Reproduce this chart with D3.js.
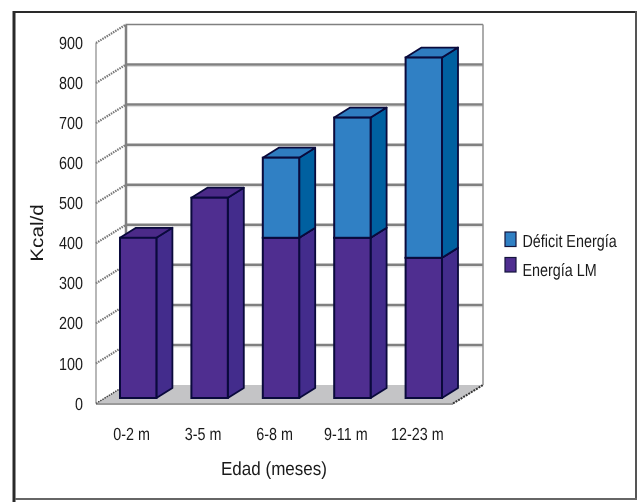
<!DOCTYPE html>
<html>
  <meta charset="utf-8" />
  <head>
    <script src="https://d3js.org/d3.v7.min.js"></script>
    <style>
      body {
        margin: 0;
        background: #fff;
      }
      /* the original is a soft, scanned-looking image */
      svg {
        filter: blur(0.35px);
      }
      text {
        font-family: "Liberation Sans", Arial, sans-serif;
        fill: #1a1a1a;
        text-rendering: geometricPrecision;
      }
    </style>
  </head>
  <body>
    <svg id="chart" width="639" height="502"></svg>

    <script>
      const categories = ["0-2 m", "3-5 m", "6-8 m", "9-11 m", "12-23 m"];
      const energiaLM = [400, 500, 400, 400, 350];
      const deficitEnergia = [0, 0, 200, 300, 500];
      const yTicks = [0, 100, 200, 300, 400, 500, 600, 700, 800, 900];

      const svg = d3.select("#chart");

      // 3d offsets: wall depth and bar depth
      const wallDx = 30;
      const wallDy = -18.5;
      const barShiftX = 6.5;
      const barShiftY = -5.5;
      const barDx = 16;
      const barDy = -10;

      const xScale = d3
        .scaleBand()
        .domain(categories)
        .range([96, 453])
        .paddingInner(0.49)
        .paddingOuter(0.245);
      const yScale = d3.scaleLinear().domain([0, 900]).range([403.5, 43]);

      // outer frame
      const frame = svg.append("g");
      frame.append("line").attr("x1", 14).attr("x2", 14).attr("y1", 11).attr("y2", 502)
        .attr("stroke", "#2a2a2a").attr("stroke-width", 3);
      frame.append("line").attr("x1", 13).attr("x2", 637).attr("y1", 12).attr("y2", 12)
        .attr("stroke", "#2a2a2a").attr("stroke-width", 2);
      frame.append("line").attr("x1", 636).attr("x2", 636).attr("y1", 11).attr("y2", 499)
        .attr("stroke", "#555").attr("stroke-width", 2);
      frame.append("line").attr("x1", 15).attr("x2", 637).attr("y1", 499).attr("y2", 499)
        .attr("stroke", "#666").attr("stroke-width", 2);

      // floor
      const x0 = xScale.range()[0];
      const x1 = xScale.range()[1];
      const y0 = yScale(0);
      svg.append("polygon")
        .attr("points", [
          [x0, y0],
          [x0 + wallDx, y0 + wallDy],
          [x1 + wallDx, y0 + wallDy],
          [x1, y0],
        ].join(" "))
        .attr("fill", "#c4c4c6");
      svg.append("line")
        .attr("x1", x0).attr("x2", x1).attr("y1", y0 + 0.5).attr("y2", y0 + 0.5)
        .attr("stroke", "#9a9a9a").attr("stroke-width", 2);
      svg.append("line")
        .attr("x1", x1).attr("x2", x1 + wallDx).attr("y1", y0).attr("y2", y0 + wallDy)
        .attr("stroke", "#333").attr("stroke-width", 2).attr("stroke-dasharray", "2 1");

      // gridlines on back wall and side wall
      const grid = svg.append("g");
      grid.selectAll(".shadow")
        .data(yTicks.slice(1, -1))
        .join("line")
        .attr("x1", x0 + wallDx).attr("x2", x1 + wallDx)
        .attr("y1", (d) => yScale(d) + wallDy + 2).attr("y2", (d) => yScale(d) + wallDy + 2)
        .attr("stroke", "#dcdcdc").attr("stroke-width", 1);
      grid.selectAll(".back")
        .data(yTicks.slice(1))
        .join("line")
        .attr("x1", x0 + wallDx).attr("x2", x1 + wallDx)
        .attr("y1", (d) => yScale(d) + wallDy).attr("y2", (d) => yScale(d) + wallDy)
        .attr("stroke", "#808080")
        .attr("stroke-width", (d) => (d === 900 ? 1.5 : 2.5));
      grid.selectAll(".side")
        .data(yTicks)
        .join("line")
        .attr("x1", x0).attr("x2", x0 + wallDx)
        .attr("y1", yScale).attr("y2", (d) => yScale(d) + wallDy)
        .attr("stroke", (d) => (d === 0 ? "#444" : "#777"))
        .attr("stroke-width", (d) => (d === 0 ? 1.5 : 2.2))
        .attr("stroke-dasharray", "1.5 1");
      grid.append("line")
        .attr("x1", x0).attr("x2", x0).attr("y1", yScale(900)).attr("y2", y0)
        .attr("stroke", "#888").attr("stroke-width", 1.2);
      grid.append("line")
        .attr("x1", x0 + wallDx).attr("x2", x0 + wallDx)
        .attr("y1", yScale(900) + wallDy).attr("y2", y0 + wallDy)
        .attr("stroke", "#808080").attr("stroke-width", 2.5);
      grid.append("line")
        .attr("x1", x1 + wallDx).attr("x2", x1 + wallDx)
        .attr("y1", yScale(900) + wallDy).attr("y2", y0 + wallDy)
        .attr("stroke", "#909090").attr("stroke-width", 1.5);

      // stacked 3d bars
      const seriesColors = [
        { front: "#4f2e90", side: "#432c8c", top: "#4b2a88" },
        { front: "#3080c4", side: "#0060a0", top: "#2f7cc0" },
      ];
      const rows = categories.map((c, i) => ({
        category: c,
        lm: energiaLM[i],
        deficit: deficitEnergia[i],
      }));
      const stacked = d3.stack().keys(["lm", "deficit"])(rows);
      const w = xScale.bandwidth();
      const edge = "#0a0a3c";

      stacked.forEach((layer, s) => {
        const g = svg.append("g");
        layer.forEach((d) => {
          if (d[1] === d[0]) return;
          const left = xScale(d.data.category) + barShiftX;
          const top = yScale(d[1]) + barShiftY;
          const bottom = yScale(d[0]) + barShiftY;
          const right = left + w;
          // side face
          g.append("polygon")
            .attr("points", [
              [right, top],
              [right + barDx, top + barDy],
              [right + barDx, bottom + barDy],
              [right, bottom],
            ].join(" "))
            .attr("fill", seriesColors[s].side)
            .attr("stroke", edge)
            .attr("stroke-width", 1.8)
            .attr("stroke-linejoin", "round");
          // top face
          g.append("polygon")
            .attr("points", [
              [left, top],
              [left + barDx, top + barDy],
              [right + barDx, top + barDy],
              [right, top],
            ].join(" "))
            .attr("fill", seriesColors[s].top)
            .attr("stroke", edge)
            .attr("stroke-width", 1.8)
            .attr("stroke-linejoin", "round");
          g.append("rect")
            .attr("x", left)
            .attr("y", top)
            .attr("width", w)
            .attr("height", bottom - top)
            .attr("fill", seriesColors[s].front)
            .attr("stroke", edge)
            .attr("stroke-width", 2);
        });
      });

      // axes
      const yAxis = svg.append("g")
        .attr("transform", "translate(83,0)")
        .call(d3.axisLeft(yScale).tickValues(yTicks).tickFormat(d3.format("d")).tickSize(0).tickPadding(0));
      yAxis.select(".domain").remove();
      yAxis.selectAll("text")
        .attr("x", 0)
        .attr("transform", "scale(0.82,1)")
        .attr("font-size", 17.5)
        .style("font-family", '"Liberation Sans"');

      const xAxis = svg.append("g")
        .attr("transform", "translate(0,427.5)")
        .call(d3.axisBottom(xScale).tickSize(0).tickPadding(0));
      xAxis.select(".domain").remove();
      xAxis.selectAll("text")
        .attr("y", 0)
        .attr("dy", "0.71em")
        .attr("transform", "scale(0.82,1)")
        .attr("font-size", 17.5)
        .style("font-family", '"Liberation Sans"');

      // axis titles
      svg.append("text")
        .attr("transform", "translate(274,474.5) scale(0.896,1)")
        .attr("text-anchor", "middle")
        .attr("font-size", 19)
        .text("Edad (meses)");
      svg.append("text")
        .attr("transform", "translate(43,233) rotate(-90) scale(1.15,1)")
        .attr("text-anchor", "middle")
        .attr("font-size", 18)
        .text("Kcal/d");

      // legend
      const legendNames = ["Déficit Energía", "Energía LM"];
      const legendColors = ["#3080c4", "#4f2e90"];
      const legendBoxY = d3.scalePoint().domain(legendNames).range([232, 257.5]);
      const legendTextY = d3.scalePoint().domain(legendNames).range([247, 275.5]);
      const legend = svg.append("g");
      legend.selectAll("rect")
        .data(legendNames)
        .join("rect")
        .attr("x", 505)
        .attr("y", (d) => legendBoxY(d))
        .attr("width", 11)
        .attr("height", 14.5)
        .attr("fill", (d, i) => legendColors[i])
        .attr("stroke", "#14143c")
        .attr("stroke-width", 1.2);
      legend.selectAll("text")
        .data(legendNames)
        .join("text")
        .attr("transform", (d) => `translate(522.5,${legendTextY(d)}) scale(0.82,1)`)
        .attr("font-size", 17.5)
        .text((d) => d);
    </script>
  </body>
</html>
